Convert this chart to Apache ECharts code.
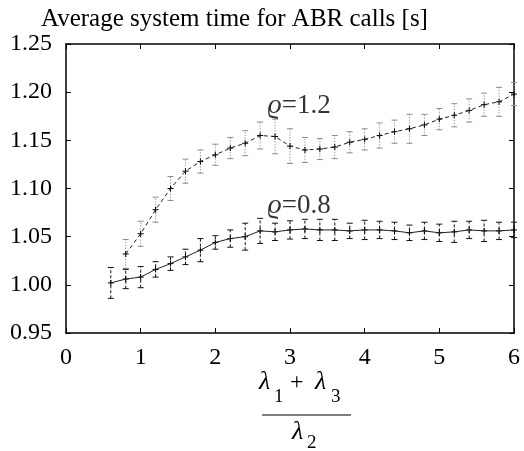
<!DOCTYPE html>
<html>
<head>
<meta charset="utf-8">
<script src="https://cdn.jsdelivr.net/npm/echarts@6/dist/echarts.min.js"></script>
<style>
  html, body { margin: 0; padding: 0; background: #fff; }
  #chart { width: 524px; height: 451px; }
</style>
</head>
<body>
<div id="chart"></div>
<script>
// x positions of the simulated points, (lambda1 + lambda3) / lambda2
var xs = [0.6, 0.8, 1.0, 1.2, 1.4, 1.6, 1.8, 2.0, 2.2, 2.4, 2.6, 2.8, 3.0, 3.2,
          3.4, 3.6, 3.8, 4.0, 4.2, 4.4, 4.6, 4.8, 5.0, 5.2, 5.4, 5.6, 5.8, 6.0];

// rho = 0.8, solid line
var rho08 = [1.002, 1.006, 1.008, 1.016, 1.022, 1.029, 1.036, 1.044, 1.048, 1.050, 1.056, 1.055, 1.057, 1.058,
             1.057, 1.057, 1.056, 1.057, 1.057, 1.056, 1.054, 1.056, 1.054, 1.055, 1.057, 1.056, 1.056, 1.057];
var err08 = [0.016, 0.010, 0.011, 0.008, 0.007, 0.008, 0.012, 0.007, 0.009, 0.014, 0.013, 0.009, 0.0095, 0.010,
             0.011, 0.011, 0.008, 0.010, 0.009, 0.009, 0.008, 0.009, 0.009, 0.011, 0.009, 0.011, 0.009, 0.008];

// rho = 1.2, dashed line (no point at 0.6)
var rho12 = [null, 1.032, 1.053, 1.078, 1.100, 1.118, 1.128, 1.135, 1.142, 1.147, 1.155, 1.154, 1.144, 1.140,
             1.141, 1.143, 1.148, 1.151, 1.155, 1.159, 1.162, 1.166, 1.172, 1.176, 1.181, 1.187, 1.190, 1.198];
var err12 = [null, 0.015, 0.013, 0.013, 0.0125, 0.0125, 0.012, 0.011, 0.011, 0.013, 0.014, 0.018, 0.018, 0.013,
             0.011, 0.012, 0.011, 0.011, 0.013, 0.012, 0.015, 0.011, 0.011, 0.012, 0.012, 0.012, 0.015, 0.012];

var xTicks = [0, 1, 2, 3, 4, 5, 6];
var yTicks = [0.95, 1.00, 1.05, 1.10, 1.15, 1.20, 1.25];

var labels = [
  {rho: '1.2', x: 2.70, y: 1.186},
  {rho: '0.8', x: 2.70, y: 1.082}
];

var serif = "'Liberation Serif', 'Times New Roman', serif";

function pairs(vals) {
  var out = [];
  for (var i = 0; i < xs.length; i++) {
    if (vals[i] != null) out.push([xs[i], vals[i]]);
  }
  return out;
}
function triples(vals, errs) {
  var out = [];
  for (var i = 0; i < xs.length; i++) {
    if (vals[i] != null) out.push([xs[i], vals[i], errs[i]]);
  }
  return out;
}

// error bar + plus marker drawn through the axes
function errorBar(color, dash) {
  return function (params, api) {
    var x = api.value(0), y = api.value(1), e = api.value(2);
    var lo = api.coord([x, y - e]);
    var hi = api.coord([x, y + e]);
    var c = api.coord([x, y]);
    var cap = 3, m = 3;
    var bar = {stroke: color, lineWidth: 1, lineDash: dash};
    var mk = {stroke: '#000', lineWidth: 1};
    return {
      type: 'group',
      children: [
        {type: 'line', shape: {x1: lo[0], y1: lo[1], x2: hi[0], y2: hi[1]}, style: bar},
        {type: 'line', shape: {x1: lo[0] - cap, y1: lo[1], x2: lo[0] + cap, y2: lo[1]}, style: {stroke: color, lineWidth: 1}},
        {type: 'line', shape: {x1: hi[0] - cap, y1: hi[1], x2: hi[0] + cap, y2: hi[1]}, style: {stroke: color, lineWidth: 1}},
        {type: 'line', shape: {x1: c[0] - m, y1: c[1], x2: c[0] + m, y2: c[1]}, style: mk},
        {type: 'line', shape: {x1: c[0], y1: c[1] - m, x2: c[0], y2: c[1] + m}, style: mk}
      ]
    };
  };
}

var chart = echarts.init(document.getElementById('chart'), null, {renderer: 'canvas'});

var axisCommon = {
  type: 'value',
  axisLine: {show: true, onZero: false, lineStyle: {color: '#000', width: 1.5}},
  axisTick: {show: true, inside: true, length: 5, lineStyle: {color: '#000', width: 1}},
  splitLine: {show: false}
};

var option = {
  animation: false,
  backgroundColor: '#fff',
  title: {
    text: 'Average system time for ABR calls [s]',
    left: 36,
    top: 2,
    textStyle: {fontFamily: serif, fontSize: 25, fontWeight: 'normal', color: '#000'}
  },
  grid: {left: 66, right: 10, top: 44, bottom: 118},
  xAxis: [
    Object.assign({}, axisCommon, {
      position: 'bottom', min: xTicks[0], max: xTicks[xTicks.length - 1], interval: 1,
      axisLabel: {show: true, margin: 13, fontFamily: serif, fontSize: 24, color: '#000'}
    }),
    Object.assign({}, axisCommon, {
      position: 'top', min: xTicks[0], max: xTicks[xTicks.length - 1], interval: 1,
      axisLabel: {show: false}
    })
  ],
  yAxis: [
    Object.assign({}, axisCommon, {
      position: 'left', min: yTicks[0], max: yTicks[yTicks.length - 1], interval: 0.05,
      axisLabel: {show: true, margin: 14, fontFamily: serif, fontSize: 24, color: '#000',
        formatter: function (v) { return v.toFixed(2); }}
    }),
    Object.assign({}, axisCommon, {
      position: 'right', min: yTicks[0], max: yTicks[yTicks.length - 1], interval: 0.05,
      axisLabel: {show: false}
    })
  ],
  series: [
    {
      name: 'rho 1.2 bars', type: 'custom', z: 2,
      renderItem: errorBar('#8c8c8c', [1.2, 1.6]),
      data: triples(rho12, err12)
    },
    {
      name: 'rho 0.8 bars', type: 'custom', z: 2,
      renderItem: errorBar('#111', [3, 2]),
      data: triples(rho08, err08)
    },
    {
      name: 'rho 1.2', type: 'line', z: 3, symbol: 'none',
      lineStyle: {color: '#222', width: 1, type: [4, 3]},
      data: pairs(rho12)
    },
    {
      name: 'rho 0.8', type: 'line', z: 3, symbol: 'none',
      lineStyle: {color: '#222', width: 1},
      data: pairs(rho08)
    },
    {
      name: 'labels', type: 'scatter', z: 4, symbolSize: 0, silent: true,
      data: labels.map(function (l) { return {value: [l.x, l.y], name: l.rho}; }),
      label: {
        show: true, position: 'inside', align: 'left', verticalAlign: 'middle',
        formatter: '{r|ϱ}{n|=}{n|{b}}',
        rich: {
          r: {fontFamily: serif, fontStyle: 'italic', fontSize: 28, color: '#000'},
          n: {fontFamily: serif, fontSize: 27, color: '#000'}
        }
      }
    }
  ],
  graphic: [
    {type: 'text', left: 259, top: 369, style: {text: 'λ', font: 'italic 26px ' + serif, fill: '#000'}},
    {type: 'text', left: 274, top: 388, style: {text: '1', font: '19px ' + serif, fill: '#000'}},
    {type: 'text', left: 290, top: 371, style: {text: '+', font: '24px ' + serif, fill: '#000'}},
    {type: 'text', left: 315, top: 369, style: {text: 'λ', font: 'italic 26px ' + serif, fill: '#000'}},
    {type: 'text', left: 331, top: 388, style: {text: '3', font: '19px ' + serif, fill: '#000'}},
    {type: 'line', shape: {x1: 262, y1: 415, x2: 351, y2: 415}, style: {stroke: '#000', lineWidth: 1}},
    {type: 'text', left: 292, top: 419, style: {text: 'λ', font: 'italic 26px ' + serif, fill: '#000'}},
    {type: 'text', left: 307, top: 434, style: {text: '2', font: '19px ' + serif, fill: '#000'}}
  ]
};

chart.setOption(option);
</script>
</body>
</html>
